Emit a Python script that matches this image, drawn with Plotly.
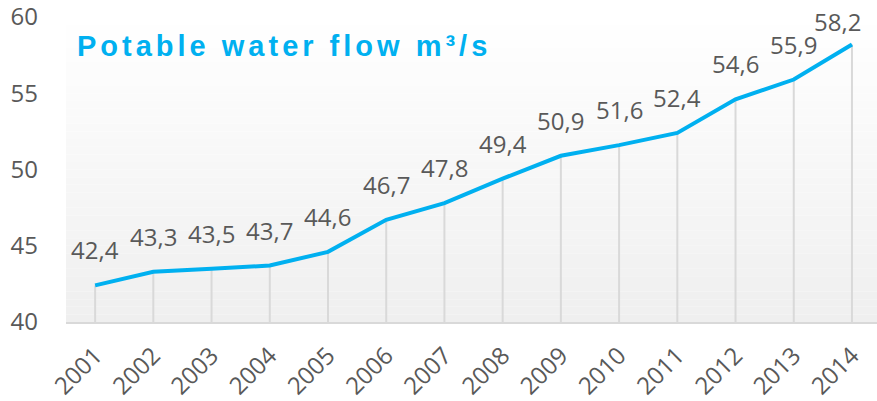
import plotly.graph_objects as go

years = ["2001", "2002", "2003", "2004", "2005", "2006", "2007",
         "2008", "2009", "2010", "2011", "2012", "2013", "2014"]
flow = [42.4, 43.3, 43.5, 43.7, 44.6, 46.7, 47.8,
        49.4, 50.9, 51.6, 52.4, 54.6, 55.9, 58.2]
labels = ["42,4", "43,3", "43,5", "43,7", "44,6", "46,7", "47,8",
          "49,4", "50,9", "51,6", "52,4", "54,6", "55,9", "58,2"]
title_text = "Potable water flow m³/s"
y_min, y_max = 40, 60
y_ticks = [40, 45, 50, 55, 60]

W, H = 877, 401
ML, MR, MT, MB = 66, 0, 17, 79

LINE_COLOR = "#00B0F0"
TEXT_COLOR = "#595959"
FONT = "Open Sans, Noto Sans, sans-serif"

fig = go.Figure()

# drop lines from each point to the x axis
fig.add_trace(go.Scatter(
    x=years, y=flow, mode="markers",
    marker=dict(size=0.1, color="rgba(0,0,0,0)"),
    error_y=dict(type="data", symmetric=False,
                 array=[0] * len(flow),
                 arrayminus=[v - y_min for v in flow],
                 width=0, color="#d9d9d9", thickness=2),
    hoverinfo="skip", showlegend=False,
))

fig.add_trace(go.Scatter(
    x=years, y=flow, mode="lines",
    line=dict(color=LINE_COLOR, width=4),
    showlegend=False,
))

# vertical gradient background in plot area (white at top -> light grey)
shapes = []
n = 40
top = (255, 255, 255)
bot = (239, 239, 239)
for i in range(n):
    t = (i + 0.5) / n
    c = tuple(round(top[k] + (bot[k] - top[k]) * t) for k in range(3))
    shapes.append(dict(
        type="rect", xref="paper", yref="paper",
        x0=0, x1=1, y0=1 - (i + 1) / n, y1=1 - i / n,
        fillcolor="rgb(%d,%d,%d)" % c, line=dict(width=0), layer="below",
    ))

annotations = []
for i, (v, lab) in enumerate(zip(flow, labels)):
    last = i == len(flow) - 1
    annotations.append(dict(
        x=i, y=v, xref="x", yref="y", text=lab, showarrow=False,
        xanchor="center", yanchor="bottom",
        xshift=-14 if last else 0, yshift=4 if last else 17,
        font=dict(family=FONT, size=24, color=TEXT_COLOR),
    ))

annotations.append(dict(
    xref="paper", yref="paper", x=0.011, y=0.905,
    xanchor="left", yanchor="middle", showarrow=False,
    text='<span style="letter-spacing:4px">' + "<b>" + title_text + "</b></span>",
    font=dict(family="Liberation Sans, Arial, sans-serif", size=29, color=LINE_COLOR),
))

fig.update_layout(
    width=W, height=H,
    margin=dict(l=ML, r=MR, t=MT, b=MB),
    paper_bgcolor="white", plot_bgcolor="rgba(0,0,0,0)",
    shapes=shapes, annotations=annotations,
    xaxis=dict(
        type="category", tickangle=-45, showgrid=False,
        showline=True, linecolor="#d9d9d9", linewidth=2,
        ticks="", ticklabelstandoff=8,
        tickfont=dict(family=FONT, size=24, color=TEXT_COLOR),
        range=[-0.5, 13.43],
    ),
    yaxis=dict(
        range=[y_min, y_max], tickvals=y_ticks, showgrid=False,
        zeroline=False, showline=False, ticks="",
        ticklabeloverflow="allow", ticklabelstandoff=27,
        tickfont=dict(family=FONT, size=24, color=TEXT_COLOR),
    ),
)

fig.write_html(
    "out.html",
    config={"displayModeBar": False},
    post_script="document.body.style.margin='0';document.body.style.overflow='hidden';",
)
